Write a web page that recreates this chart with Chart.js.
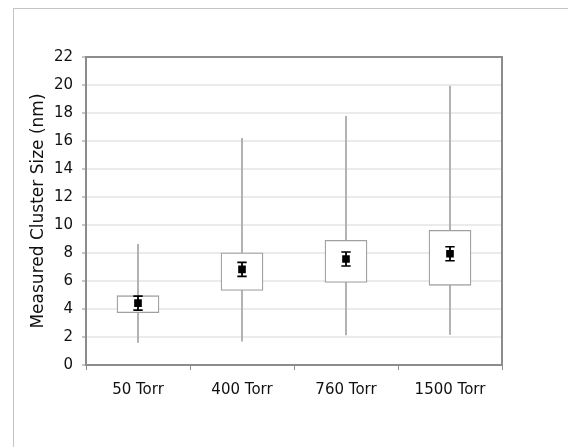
<!DOCTYPE html>
<html>
<head>
<meta charset="utf-8">
<script src="https://cdn.jsdelivr.net/npm/chart.js@4"></script>
<style>
  html, body { margin: 0; padding: 0; background: #fff; }
  #wrap { position: relative; width: 568px; height: 447px; overflow: hidden; }
  #frame { position: absolute; left: 13px; top: 8px; width: 600px; height: 500px; border: 1px solid #c4c4c4; }
  #chart { position: absolute; left: 0; top: 0; }
</style>
</head>
<body>
<div id="wrap">
  <div id="frame"></div>
  <canvas id="chart" width="568" height="447"></canvas>
</div>
<script>
// 圧力ごとのクラスターサイズ分布
const categories  = ['50 Torr', '400 Torr', '760 Torr', '1500 Torr'];
const whiskerLow  = [1.62, 1.71, 2.14, 2.19];
const whiskerHigh = [8.62, 16.19, 17.76, 19.93];
const boxLow      = [3.74, 5.33, 5.90, 5.69];
const boxHigh     = [4.95, 8.02, 8.90, 9.62];
const meanValues  = [4.42, 6.83, 7.57, 7.95];
const meanError   = [0.5, 0.5, 0.5, 0.5];
const yTicks      = [0, 2, 4, 6, 8, 10, 12, 14, 16, 18, 20, 22];

const AXIS_GRAY = '#8c8c8c';
const FONT = 'DejaVu Sans';

// 平均値のエラーバーを描く
const errorBarPlugin = {
  id: 'errorBars',
  afterDatasetsDraw(chart) {
    const { ctx, scales: { x, y } } = chart;
    ctx.save();
    ctx.strokeStyle = '#000';
    categories.forEach((c, i) => {
      const px = x.getPixelForValue(i);
      const top = y.getPixelForValue(meanValues[i] + meanError[i]);
      const bot = y.getPixelForValue(meanValues[i] - meanError[i]);
      ctx.lineWidth = 1.8;
      ctx.beginPath();
      ctx.moveTo(px, top);
      ctx.lineTo(px, bot);
      ctx.stroke();
      ctx.lineWidth = 1.6;
      ctx.beginPath();
      ctx.moveTo(px - 4.7, top);
      ctx.lineTo(px + 4.7, top);
      ctx.moveTo(px - 4.7, bot);
      ctx.lineTo(px + 4.7, bot);
      ctx.stroke();
    });
    ctx.restore();
  },
};

// プロット領域の上と右の枠線
const frameBorderPlugin = {
  id: 'frameBorder',
  beforeDatasetsDraw(chart) {
    const { ctx, chartArea: a } = chart;
    ctx.save();
    ctx.strokeStyle = AXIS_GRAY;
    ctx.lineWidth = 2;
    ctx.beginPath();
    ctx.moveTo(a.left, a.top);
    ctx.lineTo(a.right, a.top);
    ctx.lineTo(a.right, a.bottom);
    ctx.stroke();
    ctx.restore();
  },
};

new Chart(document.getElementById('chart'), {
  type: 'bar',
  data: {
    labels: categories,
    datasets: [
      {
        type: 'line',
        data: meanValues,
        showLine: false,
        pointStyle: 'rect',
        pointRadius: 5.4,
        pointBackgroundColor: '#000',
        pointBorderWidth: 0,
        order: 0,
      },
      {
        data: categories.map((c, i) => [boxLow[i], boxHigh[i]]),
        backgroundColor: '#fff',
        borderColor: '#a0a0a0',
        borderWidth: 1.3,
        borderSkipped: false,
        barThickness: 42,
        grouped: false,
        order: 1,
      },
      {
        data: categories.map((c, i) => [whiskerLow[i], whiskerHigh[i]]),
        backgroundColor: '#adadad',
        borderWidth: 0,
        barThickness: 1.2,
        grouped: false,
        order: 2,
      },
    ],
  },
  options: {
    responsive: false,
    animation: false,
    layout: { padding: { top: 57, right: 66, left: 0, bottom: 0 } },
    plugins: { legend: { display: false }, tooltip: { enabled: false } },
    scales: {
      x: {
        offset: true,
        afterFit: (s) => { s.height = 82; },
        grid: { offset: true, drawOnChartArea: false, tickLength: 5, tickColor: AXIS_GRAY, tickWidth: 1 },
        border: { color: AXIS_GRAY, width: 2 },
        ticks: { color: '#111', font: { family: FONT, size: 15 }, padding: 11 },
      },
      y: {
        min: 0,
        max: 22,
        afterFit: (s) => { s.width = 86; },
        afterBuildTicks: (s) => { s.ticks = yTicks.map((v) => ({ value: v })); },
        grid: { color: '#ebebeb', lineWidth: 2, tickLength: 4, tickColor: AXIS_GRAY, tickWidth: 1 },
        border: { color: AXIS_GRAY, width: 2 },
        ticks: { color: '#111', font: { family: FONT, size: 15 }, padding: 9 },
        title: {
          display: true,
          text: 'Measured Cluster Size (nm)',
          color: '#111',
          font: { family: FONT, size: 17 },
          padding: { top: 28 },
        },
      },
    },
  },
  plugins: [errorBarPlugin, frameBorderPlugin],
});
</script>
</body>
</html>
